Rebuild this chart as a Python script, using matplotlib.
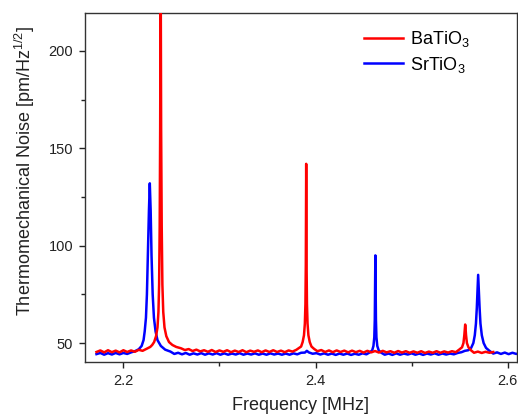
#Thermomechanical noise spectra of BaTiO3 and SrTiO3 resonators

#IMPORTS
import numpy as np
import matplotlib
matplotlib.use('Agg')
import matplotlib.pyplot as plt
from matplotlib.ticker import MultipleLocator, FormatStrFormatter

#FONTS
plt.rcParams['font.family'] = ['Liberation Sans', 'DejaVu Sans']
plt.rcParams['mathtext.fontset'] = 'custom'
plt.rcParams['mathtext.rm'] = 'Liberation Sans'
plt.rcParams['mathtext.it'] = 'Liberation Sans'
plt.rcParams['mathtext.bf'] = 'Liberation Sans'
plt.rcParams['mathtext.default'] = 'regular'

#DATA (frequency in MHz, noise in pm/Hz^1/2)
ba_freq = [2.172, 2.176, 2.180, 2.184, 2.188, 2.192, 2.196, 2.200, 2.204, 2.208,
           2.212, 2.216, 2.220, 2.224,
           2.2280, 2.2300, 2.2320, 2.2340, 2.2355, 2.2365, 2.2372, 2.2378, 2.2383,
           2.2388, 2.2393, 2.2399, 2.2406, 2.2415, 2.2428, 2.2447, 2.2475, 2.2510,
           2.2550, 2.2600,
           2.264, 2.268, 2.272, 2.276, 2.280, 2.284, 2.288, 2.292, 2.296, 2.300,
           2.304, 2.308, 2.312, 2.316, 2.320, 2.324, 2.328, 2.332, 2.336, 2.340,
           2.344, 2.348, 2.352, 2.356, 2.360, 2.364, 2.368, 2.372, 2.376, 2.380,
           2.3830, 2.3850, 2.3866, 2.3880, 2.3889, 2.3895, 2.3899, 2.3901, 2.3903,
           2.3905, 2.3907, 2.3911, 2.3917, 2.3926, 2.3940, 2.3958, 2.3985,
           2.402, 2.406, 2.410, 2.414, 2.418, 2.422, 2.426, 2.430, 2.434, 2.438,
           2.442, 2.446, 2.450, 2.454, 2.458, 2.462, 2.466, 2.470, 2.474, 2.478,
           2.482, 2.486, 2.490, 2.494, 2.498, 2.502, 2.506, 2.510, 2.514, 2.518,
           2.522, 2.526, 2.530, 2.534, 2.538, 2.542, 2.546,
           2.5495, 2.5525, 2.5540, 2.5549, 2.5554, 2.5558, 2.5562, 2.5567, 2.5576,
           2.5592, 2.5620,
           2.565, 2.569, 2.573, 2.577, 2.581, 2.585]
ba_noise = [45.4, 46.2, 45.2, 46.3, 45.3, 46.1, 45.2, 46.3, 45.4, 46.2,
            45.5, 46.5, 46.0, 47.0,
            48.0, 49.0, 50.5, 53.5, 58.0, 66.0, 80.0, 110.0, 160.0,
            250.0, 160.0, 110.0, 80.0, 66.0, 58.0, 53.5, 50.5, 49.0,
            48.0, 47.3,
            46.4, 46.9, 45.9, 46.6, 45.7, 46.3, 45.5, 46.4, 45.4, 46.2,
            45.5, 46.3, 45.3, 46.1, 45.4, 46.3, 45.3, 46.1, 45.5, 46.2,
            45.3, 46.2, 45.4, 46.3, 45.4, 46.1, 45.3, 46.2, 45.6, 46.5,
            47.5, 48.2, 50.5, 54.0, 60.0, 70.0, 90.0, 115.0, 142.0,
            115.0, 90.0, 70.0, 60.0, 54.0, 50.5, 48.2, 47.0,
            45.8, 46.4, 45.4, 46.2, 45.3, 46.2, 45.4, 46.1, 45.2, 46.1,
            45.3, 46.0, 45.1, 46.0, 45.2, 45.9, 45.1, 46.0, 45.2, 45.8,
            45.0, 45.9, 45.1, 45.8, 45.0, 45.7, 45.0, 45.8, 44.9, 45.6,
            45.0, 45.8, 45.0, 45.7, 45.1, 45.8, 45.3,
            46.6, 47.8, 50.0, 54.0, 57.5, 59.5, 57.5, 54.0, 50.0,
            47.8, 46.2,
            45.0, 45.6, 44.9, 45.5, 45.0, 45.4]

sr_freq = [2.172, 2.176, 2.180, 2.184, 2.188, 2.192, 2.196, 2.200, 2.204, 2.208,
           2.2120, 2.2160, 2.2190, 2.2210, 2.2222, 2.2235, 2.2245, 2.2255, 2.2266,
           2.2275, 2.2284, 2.2293, 2.2305, 2.2318, 2.2335, 2.2355, 2.2390, 2.2435,
           2.2490,
           2.253, 2.257, 2.261, 2.265, 2.269, 2.273, 2.277, 2.281, 2.285, 2.289,
           2.293, 2.297, 2.301, 2.305, 2.309, 2.313, 2.317, 2.321, 2.325, 2.329,
           2.333, 2.337, 2.341, 2.345, 2.349, 2.353, 2.357, 2.361, 2.365, 2.369,
           2.373, 2.377, 2.381, 2.385, 2.389, 2.391, 2.393, 2.397, 2.401, 2.405,
           2.409, 2.413, 2.417, 2.421, 2.425, 2.429, 2.433, 2.437, 2.441, 2.445,
           2.449, 2.453,
           2.4565, 2.4590, 2.4603, 2.4612, 2.4617, 2.4620, 2.4623, 2.4626, 2.4629,
           2.4634, 2.4643, 2.4658, 2.4685,
           2.472, 2.476, 2.480, 2.484, 2.488, 2.492, 2.496, 2.500, 2.504, 2.508,
           2.512, 2.516, 2.520, 2.524, 2.528, 2.532, 2.536, 2.540, 2.544, 2.548,
           2.552, 2.5555,
           2.5590, 2.5620, 2.5643, 2.5658, 2.5670, 2.5679, 2.5686, 2.5693, 2.5700,
           2.5708, 2.5717, 2.5731, 2.5750, 2.5775, 2.5810,
           2.585, 2.589, 2.593, 2.597, 2.601, 2.605, 2.609, 2.613]
sr_noise = [44.3, 44.9, 44.0, 44.8, 44.1, 44.9, 44.2, 44.9, 44.4, 45.2,
            45.8, 46.8, 48.5, 51.5, 56.0, 63.0, 75.0, 95.0, 118.0,
            132.0, 118.0, 95.0, 75.0, 63.0, 56.0, 51.5, 48.5, 46.6,
            45.6,
            44.4, 45.0, 44.2, 44.9, 44.0, 44.7, 44.1, 44.8, 44.0, 44.7,
            44.1, 44.8, 44.0, 44.7, 44.0, 44.6, 44.1, 44.8, 44.0, 44.6,
            44.1, 44.7, 44.0, 44.6, 44.0, 44.7, 44.1, 44.6, 44.0, 44.6,
            44.0, 44.7, 44.2, 45.0, 45.1, 46.0, 45.2, 44.5, 44.8, 44.1,
            44.7, 44.0, 44.6, 43.9, 44.6, 44.0, 44.6, 43.9, 44.5, 44.0,
            44.7, 44.2,
            45.2, 46.2, 48.5, 53.0, 62.0, 78.0, 95.0, 78.0, 62.0,
            53.0, 48.5, 46.2, 45.0,
            44.0, 44.6, 43.9, 44.7, 44.0, 44.6, 44.1, 44.7, 44.0, 44.6,
            43.9, 44.6, 44.1, 44.7, 44.0, 44.6, 44.1, 44.6, 44.2, 44.9,
            45.3, 46.0,
            46.3, 47.5, 50.0, 54.0, 60.0, 68.0, 77.0, 85.0, 77.0,
            68.0, 60.0, 54.0, 50.0, 47.5, 46.0,
            44.6, 45.2, 44.4, 45.1, 44.3, 45.0, 44.4, 44.9]

#PLOTTING
fig = plt.figure(figsize=(5.18, 4.16), dpi=100)
ax = fig.add_axes([0.164, 0.13, 0.834, 0.839])

ax.plot(ba_freq, ba_noise, color='#ff0000', lw=1.8, label='BaTiO$_3$', zorder=3)
ax.plot(sr_freq, sr_noise, color='#0000ff', lw=1.8, label='SrTiO$_3$', zorder=2)

ax.set_xlim(2.16, 2.6097)
ax.set_ylim(40.3, 219.5)
ax.xaxis.set_major_locator(MultipleLocator(0.2))
ax.xaxis.set_minor_locator(MultipleLocator(0.1))
ax.yaxis.set_major_locator(MultipleLocator(50))
ax.yaxis.set_minor_locator(MultipleLocator(25))
ax.xaxis.set_major_formatter(FormatStrFormatter('%.1f'))

ax.tick_params(which='major', direction='out', length=4.5, width=1.0,
               labelsize=10.5, colors='#222222', pad=4)
ax.tick_params(which='minor', direction='out', length=3, width=1.0, colors='#222222')
for s in ax.spines.values():
    s.set_linewidth(1.0)
    s.set_color('#333333')

ax.set_xlabel('Frequency [MHz]', fontsize=13, color='#222222', labelpad=7)
ax.set_ylabel('Thermomechanical Noise [pm/Hz$^{1/2}$]', fontsize=13,
              color='#222222')
ax.yaxis.set_label_coords(-0.110, 0.546)

ax.legend(loc='upper left', bbox_to_anchor=(0.645, 0.953), frameon=False,
          fontsize=13, handlelength=2.2, handletextpad=0.35, labelspacing=0.3,
          borderpad=0, borderaxespad=0)

fig.savefig('out.png', dpi=100)
